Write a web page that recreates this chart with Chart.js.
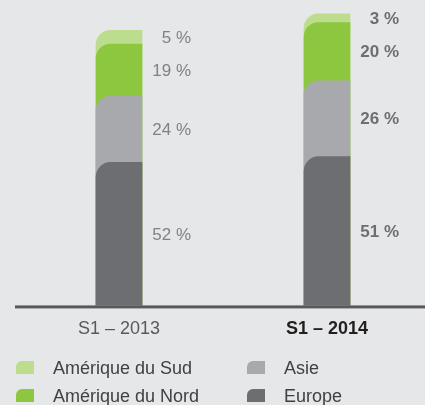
<!DOCTYPE html>
<html>
<head>
<meta charset="utf-8">
<script src="https://cdn.jsdelivr.net/npm/chart.js@4/dist/chart.umd.min.js"></script>
<style>
  html, body { margin: 0; padding: 0; background: #e6e7e8; overflow: hidden; }
  #wrap { width: 425px; height: 405px; overflow: hidden; }
</style>
</head>
<body>
<div id="wrap"><canvas id="chart" width="431" height="405"></canvas></div>
<script>
// periods on the x axis
const periods = ["S1 – 2013", "S1 – 2014"];

// share of each region, in %
const regions = ["Europe", "Asie", "Amérique du Nord", "Amérique du Sud"];
const europe = [52, 51];
const asie = [24, 26];
const nordAmerica = [19, 20];
const sudAmerica = [5, 3];

// relative size of each bar (2013 = 100)
const totals = [100, 106];

const regionColors = ["#6d6e71", "#a7a9ac", "#8dc63f", "#bcdc8e"];
const shares = [europe, asie, nordAmerica, sudAmerica];

const FONT = "'Liberation Sans', Arial, sans-serif";

// bars overlap, each one drawn from the axis up to its cumulative share
function cumulative(level) {
    return periods.map(function (p, j) {
        let sum = 0;
        for (let i = 0; i <= level; i++) {
            sum += shares[i][j];
        }
        return sum * totals[j] / 100;
    });
}

const datasets = regions.map(function (name, i) {
    return {
        label: name,
        data: cumulative(i),
        backgroundColor: regionColors[i],
        borderWidth: 0,
        borderRadius: { topLeft: 15, topRight: 0, bottomLeft: 0, bottomRight: 0 },
        barThickness: 46
    };
});

const segmentLabels = {
    id: "segmentLabels",
    afterDatasetsDraw(chart) {
        const ctx = chart.ctx;
        const area = chart.chartArea;

        // base line
        ctx.save();
        ctx.fillStyle = "#58595b";
        ctx.fillRect(15, area.bottom, 420, 3);

        ctx.textAlign = "right";
        ctx.textBaseline = "middle";
        for (let i = 0; i < regions.length; i++) {
            const meta = chart.getDatasetMeta(i);
            meta.data.forEach(function (bar, j) {
                const top = bar.y;
                const bottom = i === 0 ? bar.base : chart.getDatasetMeta(i - 1).data[j].y;
                if (j === 1) {
                    ctx.font = "bold 17px " + FONT;
                    ctx.fillStyle = "#6d6e71";
                } else {
                    ctx.font = "17px " + FONT;
                    ctx.fillStyle = "#808285";
                }
                ctx.fillText(shares[i][j] + " %", bar.x + 23 + 49, (top + bottom) / 2 + 1);
            });
        }
        ctx.restore();
    },
    afterDraw(chart) {
        const ctx = chart.ctx;
        // legend: two columns, Sud / Nord then Asie / Europe
        const items = [
            { i: 3, x: 16, y: 361 },
            { i: 1, x: 247, y: 361 },
            { i: 2, x: 16, y: 389 },
            { i: 0, x: 247, y: 389 }
        ];
        ctx.save();
        ctx.font = "18px " + FONT;
        ctx.textAlign = "left";
        ctx.textBaseline = "middle";
        items.forEach(function (it) {
            ctx.fillStyle = regionColors[it.i];
            ctx.beginPath();
            ctx.roundRect(it.x, it.y, 18, 13, [6, 0, 0, 0]);
            ctx.fill();
            ctx.fillStyle = "#414042";
            ctx.fillText(regions[it.i], it.x + 37, it.y + 8.5);
        });
        ctx.restore();
    }
};

new Chart(document.getElementById("chart"), {
    type: "bar",
    data: {
        labels: periods,
        datasets: datasets
    },
    options: {
        responsive: false,
        animation: false,
        events: [],
        layout: {
            padding: { left: 15, right: 0, top: 0, bottom: 52 }
        },
        plugins: {
            legend: { display: false },
            tooltip: { enabled: false }
        },
        scales: {
            x: {
                stacked: true,
                grid: { display: false, drawTicks: false },
                border: { display: false },
                ticks: {
                    padding: 13,
                    font: function (c) {
                        return { family: FONT, size: 18, weight: c.index === 1 ? "bold" : "normal" };
                    },
                    color: function (c) {
                        return c.index === 1 ? "#231f20" : "#58595b";
                    }
                }
            },
            y: {
                stacked: false,
                display: false,
                min: 0,
                max: 111
            }
        }
    },
    plugins: [segmentLabels]
});
</script>
</body>
</html>
